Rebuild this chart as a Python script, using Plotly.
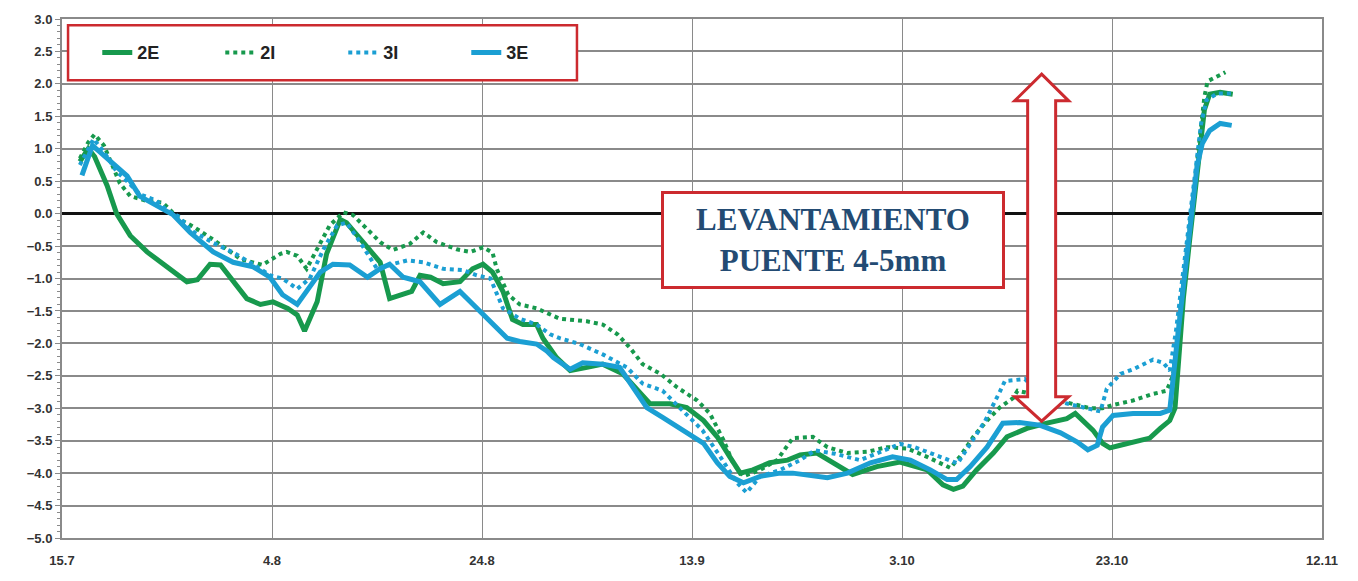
import plotly.graph_objects as go

# Days counted from 15 July; settlement readings in mm
tick_days = [0, 20, 40, 60, 80, 100, 120]
tick_labels = ["15.7", "4.8", "24.8", "13.9", "3.10", "23.10", "12.11"]

days_2e = [1.7, 2.5, 3.1, 4.3, 5.2, 6.5, 8.1, 10.0, 11.9, 12.9, 14.1, 15.1, 16.3, 17.6, 18.9,
           20.1, 21.5, 22.4, 23.1, 24.3, 25.2, 26.5, 27.1, 28.1, 29.3, 30.3, 31.2, 32.2, 33.3,
           34.1, 35.1, 36.3, 37.9, 39.1, 40.1, 41.0, 42.0, 42.9, 43.9, 45.2, 45.8, 47.1, 48.4,
           50.0, 51.5, 53.4, 54.8, 56.0, 57.9, 59.5, 61.1, 62.4, 63.6, 64.6, 65.8, 67.4, 69.1,
           70.3, 71.9, 73.4, 75.3, 77.6, 79.8, 82.4, 83.9, 84.9, 85.8, 87.1, 88.7, 90.0, 91.9,
           93.8, 95.7, 96.5, 98.2, 99.1, 99.8, 100.8, 102.7, 103.6, 104.6, 105.5, 106.0, 106.8,
           107.4, 107.9, 108.4, 108.8, 109.3, 110.3, 111.5]
vals_2e = [0.8, 1.0, 0.88, 0.43, 0.0, -0.34, -0.59, -0.82, -1.05, -1.02, -0.78, -0.79, -1.05, -1.31, -1.4,
           -1.36, -1.46, -1.56, -1.81, -1.36, -0.62, -0.09, -0.14, -0.34, -0.55, -0.75, -1.31, -1.25, -1.2,
           -0.95, -0.98, -1.08, -1.05, -0.85, -0.78, -0.9, -1.2, -1.63, -1.71, -1.71, -1.92, -2.22, -2.42,
           -2.37, -2.32, -2.47, -2.73, -2.93, -2.93, -2.99, -3.19, -3.44, -3.75, -4.0, -3.95, -3.84, -3.8,
           -3.72, -3.69, -3.84, -4.02, -3.9, -3.83, -3.95, -4.18, -4.25, -4.2, -3.95, -3.69, -3.44, -3.31,
           -3.23, -3.16, -3.08, -3.34, -3.54, -3.61, -3.57, -3.49, -3.46, -3.31, -3.19, -3.0, -1.3,
           -0.4, 0.3, 1.0, 1.6, 1.84, 1.87, 1.84]

days_2i = [1.7, 2.5, 3.1, 4.0, 5.5, 6.5, 8.0, 9.6, 11.2, 12.5, 14.4, 17.0, 19.1, 20.1, 20.8, 21.4,
           22.4, 23.3, 24.3, 25.5, 26.8, 27.7, 28.7, 30.3, 31.5, 33.1, 34.4, 35.7, 37.6, 38.9, 40.1,
           41.0, 41.4, 42.5, 43.6, 45.2, 47.4, 50.0, 51.5, 52.9, 54.1, 55.3, 57.0, 58.6, 60.5, 61.7,
           63.0, 63.9, 64.9, 66.5, 68.1, 69.6, 71.5, 72.9, 74.8, 76.7, 78.6, 80.5, 82.4, 83.6, 84.6,
           85.5, 86.8, 88.1, 89.3, 90.6, 91.0, 93.0, 95.0, 96.5, 97.9, 99.1, 100.1, 102.0, 103.9,
           105.2, 105.8, 106.5, 107.2, 107.8, 108.3, 108.8, 109.1, 110.0, 110.8]
vals_2i = [0.85, 1.1, 1.22, 1.05, 0.47, 0.27, 0.2, 0.17, -0.09, -0.2, -0.4, -0.7, -0.79, -0.7, -0.62, -0.59,
           -0.65, -0.85, -0.55, -0.18, 0.02, -0.02, -0.18, -0.44, -0.56, -0.47, -0.29, -0.44, -0.55, -0.59, -0.52,
           -0.6, -0.85, -1.25, -1.4, -1.46, -1.62, -1.66, -1.71, -1.86, -2.07, -2.32, -2.47, -2.68, -2.88, -3.08,
           -3.49, -3.84, -4.05, -3.95, -3.8, -3.46, -3.44, -3.6, -3.69, -3.67, -3.6, -3.62, -3.75, -3.84, -3.92,
           -3.75, -3.44, -3.19, -2.99, -2.84, -2.73, -2.8, -2.88, -2.95, -3.0, -3.0, -2.95, -2.88, -2.78,
           -2.73, -2.5, -1.5, -0.5, 0.4, 1.2, 1.8, 2.04, 2.12, 2.18]

days_3i = [1.7, 2.5, 3.0, 4.0, 5.2, 6.2, 7.4, 9.0, 10.0, 11.2, 12.2, 14.4, 16.3, 18.2, 19.8, 21.0,
           22.4, 23.6, 24.9, 26.2, 27.1, 28.4, 30.0, 31.2, 32.9, 34.4, 36.3, 38.2, 39.5, 40.8, 42.0,
           43.6, 45.2, 46.5, 47.4, 49.3, 51.5, 53.8, 55.3, 57.2, 59.1, 61.0, 62.7, 64.3, 65.2, 66.5,
           68.4, 70.3, 71.7, 73.6, 76.0, 78.4, 79.8, 81.2, 83.1, 84.6, 85.3, 86.5, 87.9, 89.3, 89.8,
           91.7, 92.7, 95.0, 97.4, 98.9, 99.5, 100.8, 102.0, 103.9, 104.9, 105.5, 106.1, 106.8,
           107.4, 108.0, 108.5, 109.0, 110.0, 111.4]
vals_3i = [0.75, 1.0, 1.15, 0.95, 0.65, 0.5, 0.3, 0.2, 0.05, -0.05, -0.25, -0.45, -0.6, -0.78, -0.95, -1.0,
           -1.16, -1.0, -0.55, -0.18, -0.14, -0.44, -0.85, -0.79, -0.72, -0.75, -0.85, -0.87, -0.95, -1.0, -1.46,
           -1.62, -1.71, -1.86, -1.92, -2.01, -2.17, -2.37, -2.62, -2.73, -3.03, -3.34, -3.75, -4.15, -4.3, -4.05,
           -3.95, -3.8, -3.65, -3.7, -3.8, -3.65, -3.55, -3.6, -3.72, -3.82, -3.85, -3.55, -3.2, -2.75, -2.58,
           -2.55, -2.7, -2.9, -3.0, -3.05, -2.7, -2.47, -2.4, -2.25, -2.3, -2.42, -1.8, -0.9,
           -0.1, 0.7, 1.4, 1.75, 1.85, 1.85]

days_3e = [1.9, 2.5, 2.9, 3.6, 5.2, 6.2, 7.4, 9.0, 10.6, 12.2, 14.4, 16.3, 18.2, 19.8, 21.0, 22.4,
           23.3, 24.6, 25.8, 27.4, 29.1, 30.3, 31.2, 32.5, 34.1, 36.0, 37.9, 39.5, 41.0, 42.4, 43.6,
           45.2, 46.2, 46.8, 48.4, 49.6, 51.5, 53.1, 54.4, 55.7, 57.2, 59.1, 61.1, 62.4, 63.6, 64.9,
           66.5, 68.4, 69.6, 72.9, 74.8, 77.0, 79.1, 80.8, 82.7, 84.3, 85.2, 86.5, 88.1, 89.6, 91.2,
           93.1, 95.1, 96.7, 97.7, 98.6, 99.1, 100.1, 102.0, 104.6, 105.5, 106.2, 106.8, 107.4,
           107.7, 108.1, 108.6, 109.3, 110.3, 111.4]
vals_3e = [0.59, 0.85, 1.05, 0.95, 0.73, 0.58, 0.27, 0.12, -0.02, -0.29, -0.59, -0.75, -0.82, -0.98, -1.25, -1.4,
           -1.2, -0.9, -0.78, -0.79, -0.98, -0.85, -0.78, -0.98, -1.05, -1.4, -1.2, -1.46, -1.71, -1.92, -1.97,
           -2.01, -2.12, -2.22, -2.4, -2.3, -2.32, -2.37, -2.68, -2.99, -3.14, -3.34, -3.54, -3.84, -4.05, -4.15,
           -4.05, -4.0, -4.0, -4.07, -4.0, -3.84, -3.75, -3.8, -3.95, -4.1, -4.1, -3.9, -3.6, -3.23, -3.22,
           -3.26, -3.38, -3.52, -3.64, -3.57, -3.29, -3.11, -3.08, -3.08, -3.03, -1.97, -1.1, -0.34,
           0.17, 0.73, 1.08, 1.28, 1.39, 1.36]

# Bridge lift marker: day and the span it covers (mm)
lift_day = 93.3
lift_low = -3.2
lift_high = 2.15

GREEN = "#17994d"
BLUE = "#1b9fd3"
RED = "#cc2a2f"
GRID = "#8a8a8a"

series = [
    ("2E", days_2e, vals_2e, GREEN, "solid", 5),
    ("2I", days_2i, vals_2i, GREEN, "dot", 4),
    ("3I", days_3i, vals_3i, BLUE, "dot", 4),
    ("3E", days_3e, vals_3e, BLUE, "solid", 5),
]

fig = go.Figure()
for name, xs, ys, color, dash, width in series:
    fig.add_trace(go.Scatter(
        x=xs, y=ys, name=name, mode="lines",
        line=dict(color=color, width=width, dash=dash),
    ))

tick_font = dict(family="Liberation Sans Narrow, Arial Narrow, sans-serif", size=13,
                 color="#333333", weight="bold")

fig.update_xaxes(
    range=[0, 120], tickmode="array", tickvals=tick_days, ticktext=tick_labels,
    showgrid=True, gridcolor=GRID, gridwidth=1,
    showline=True, linecolor=GRID, linewidth=1.5, mirror=True,
    ticks="", tickfont=tick_font, zeroline=False, ticklabelstandoff=10,
)
fig.update_yaxes(
    range=[-5, 3], dtick=0.5, tick0=0, tickformat=".1f",
    showgrid=True, gridcolor=GRID, gridwidth=2,
    showline=True, linecolor=GRID, linewidth=2, mirror=True,
    ticks="outside", ticklen=5, tickcolor=GRID, tickfont=tick_font,
    minor=dict(dtick=0.1, ticks="outside", ticklen=3, tickcolor=GRID, showgrid=False),
    zeroline=True, zerolinecolor="#111111", zerolinewidth=2.5,
)

# Red double-headed arrow marking the bridge lift (width in pixels, span in mm)
head_h = 27 / 65.6
shaft_w, head_w = 14, 27
top_b = lift_high - head_h
bot_b = lift_low + head_h * 0.92
arrow_path = (
    f"M0,{lift_high} L{head_w},{top_b} L{shaft_w},{top_b} L{shaft_w},{bot_b} "
    f"L{head_w},{bot_b} L0,{lift_low} L{-head_w},{bot_b} L{-shaft_w},{bot_b} "
    f"L{-shaft_w},{top_b} L{-head_w},{top_b} Z"
)
fig.add_shape(type="path", path=arrow_path, xref="x", yref="y",
              xsizemode="pixel", xanchor=lift_day,
              fillcolor="white", line=dict(color=RED, width=3), layer="above")

# Legend frame
fig.add_shape(type="rect", xref="paper", yref="paper",
              x0=0.0048, x1=0.4087, y0=0.882, y1=0.988,
              fillcolor="white", line=dict(color=RED, width=2.5), layer="above")

fig.add_annotation(
    x=73.4, y=-0.40, xref="x", yref="y",
    text="LEVANTAMIENTO<br>PUENTE 4-5mm", showarrow=False,
    font=dict(family="Liberation Serif, Times New Roman, serif", size=31,
              color="#234b73", weight="bold"),
    bgcolor="white", bordercolor=RED, borderwidth=3, borderpad=2,
    width=334, height=88, align="center", valign="middle",
)

fig.update_layout(
    width=1358, height=581,
    margin=dict(l=62, r=36, t=13, b=43),
    paper_bgcolor="white", plot_bgcolor="white",
    showlegend=True,
    legend=dict(
        orientation="h", x=0.028, y=0.935, xanchor="left", yanchor="middle",
        bgcolor="rgba(0,0,0,0)", borderwidth=0, entrywidth=78,
        font=dict(family="Liberation Sans Narrow, Arial Narrow, sans-serif", size=18,
                  color="#222222", weight="bold"),
    ),
)

fig.write_html("out.html")
